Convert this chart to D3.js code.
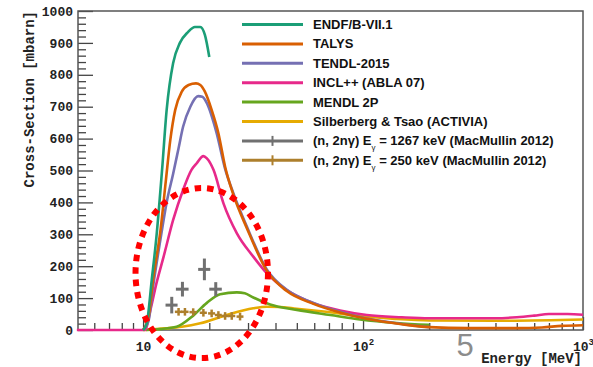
<!DOCTYPE html>
<html>
<head>
<meta charset="utf-8">
<script src="https://cdn.jsdelivr.net/npm/d3@7"></script>
<style>
	body { margin: 0; background: #fff; }
	svg { display: block; }
	.axis text { font-family: "Liberation Mono", "Courier New", monospace; font-weight: bold; font-size: 13px; fill: #222; }
	.axis line { stroke: #444; stroke-width: 1.3; }
	.legend text { font-family: "Liberation Sans", Arial, sans-serif; font-weight: bold; font-size: 13px; fill: #111; }
</style>
</head>
<body>
<svg id="chart" width="593" height="367"></svg>
<script>
// Cross-section curves, [energy MeV, mbarn]
const endf = [[10,0],[10.4,22],[10.95,157],[11.5,292],[12.2,502],[12.8,690],[13.7,837],[14.7,900],[16,934],[17.2,950],[18.2,950],[19.1,925],[20,856]];
const talys = [[10,0],[10.6,42],[11.1,157],[12,313],[12.7,470],[13.3,596],[14,690],[15,747],[16.1,768],[17.4,773],[18.2,768],[19.1,747],[20.5,690],[22,617],[23.6,512],[25.7,425],[29.6,320],[36.5,186],[45,122],[59.5,82],[78.6,55],[104,35],[150,18],[200,9],[300,6],[500,6],[650,8],[800,13],[1000,15]];
const tendl = [[10,0],[10.6,30],[11.1,135],[12,285],[12.8,400],[13.7,490],[14.5,570],[15.2,637],[16.4,700],[17.8,733],[18.6,731],[19.5,711],[21.6,617],[23.6,505],[25.7,430],[29.6,325],[36.5,190],[45,126],[59.5,85],[78.6,57],[104,36],[150,19],[200,9]];
const incl = [[5,0],[10.2,0],[10.8,63],[11.5,146],[12.4,230],[13.7,345],[15.2,439],[16.6,502],[17.5,522],[18.8,545],[19.5,538],[20.9,502],[23.2,397],[26.7,303],[31.7,230],[36.5,178],[45,125],[59.5,84],[78.6,61],[104,47],[150,40],[200,37],[400,37],[500,40],[600,45],[700,50],[850,50],[1000,48]];
const mendl = [[10.3,0],[12,3],[14.2,10],[16.9,45],[19.5,85],[22.4,112],[26.7,118],[29,115],[31.7,102],[37.8,80],[50,63],[71,47],[97,33],[142,22],[200,16]];
const activia = [[10,0],[12.7,5],[15,10],[18.2,21],[24,47],[31.7,68],[36.5,73],[42,72],[48,68],[68,57],[97,44],[140,35],[200,30],[400,29],[1000,33]];

// MacMullin 2012 points: [energy, xerr, mbarn, yerr]
const gamma1267 = [[13.5,0.85,78,26],[15.1,1.0,128,23],[19.0,1.2,190,34],[21.4,1.4,128,22]];
const gamma250 = [[14.5,0.55,57,12],[15.5,0.6,57,12],[16.9,0.65,56,12],[18.8,0.7,54,12],[20.5,0.75,52,12],[22,0.8,47,12],[23.6,0.9,44,12],[25.3,0.95,44,12],[27.6,1.0,42,12]];

const yMajor = [0,100,200,300,400,500,600,700,800,900,1000];
const xMajor = [10,100,1000];
const xMinor = [6,7,8,9,20,30,40,50,60,70,80,90,200,300,400,500,600,700,800,900];

// red dotted annotation, extent in data units
const ringE = [9.24, 36.97];
const ringV = [-88, 445];

const colors = d3.schemeDark2;
const curves = [
	{name: "ENDF/B-VII.1", data: endf, color: colors[0]},
	{name: "TALYS", data: talys, color: colors[1]},
	{name: "TENDL-2015", data: tendl, color: colors[2]},
	{name: "INCL++ (ABLA 07)", data: incl, color: colors[3]},
	{name: "MENDL 2P", data: mendl, color: colors[4]},
	{name: "Silberberg & Tsao (ACTIVIA)", data: activia, color: colors[5]}
];
const points = [
	{kev: "1267", data: gamma1267, color: "#707070", width: 3},
	{kev: "250", data: gamma250, color: "#ad7f2c", width: 2.5}
];

const svg = d3.select("#chart");
const x = d3.scaleLog().domain([5.06, 1000]).range([78, 583]);
const y = d3.scaleLinear().domain([0, 1000]).range([330, 11]);

// axes
const yAxis = svg.append("g").attr("class", "axis").attr("transform", "translate(78,0)");
yAxis.append("g").call(d3.axisLeft(y).tickValues(yMajor).tickSize(-15).tickSizeOuter(0).tickPadding(5).tickFormat(d3.format("d")));
yAxis.append("g").call(d3.axisLeft(y).tickValues(d3.range(20, 1000, 20).filter(v => v % 100)).tickSize(-8).tickFormat(""));
yAxis.selectAll(".domain").remove();

const xAxis = svg.append("g").attr("class", "axis").attr("transform", "translate(0,330)");
const xMajorG = xAxis.append("g")
		.call(d3.axisBottom(x).tickValues(xMajor).tickSize(-13).tickSizeOuter(0).tickPadding(12));
xAxis.append("g").call(d3.axisBottom(x).tickValues(xMinor).tickSize(-7).tickFormat(""));
xAxis.selectAll(".domain").remove();
xMajorG.selectAll(".tick text").each(function (d) {
	var t = d3.select(this).text("");
	t.append("tspan").text("10");
	if (d > 10) t.append("tspan").attr("dy", "-6").attr("font-size", "9px").text(Math.round(Math.log10(d)));
});

svg.append("rect")
		.attr("x", 78).attr("y", 11)
		.attr("width", 583 - 78).attr("height", 330 - 11)
		.attr("fill", "none").attr("stroke", "#555").attr("stroke-width", 1.5);

// curves
const line = d3.line()
		.x(d => x(d[0]))
		.y(d => y(d[1]))
		.curve(d3.curveMonotoneX);

svg.append("g").selectAll("path")
		.data(curves.slice().reverse())
	.enter().append("path")
		.attr("d", d => line(d.data))
		.attr("fill", "none")
		.attr("stroke", d => d.color)
		.attr("stroke-width", 2.6)
		.attr("stroke-linejoin", "round");

// error-bar crosses
points.forEach(p => {
	var g = svg.append("g").attr("stroke", p.color).attr("stroke-width", p.width);
	g.selectAll(".h").data(p.data).enter().append("line")
			.attr("x1", d => x(d[0] - d[1])).attr("x2", d => x(d[0] + d[1]))
			.attr("y1", d => y(d[2])).attr("y2", d => y(d[2]));
	g.selectAll(".v").data(p.data).enter().append("line")
			.attr("x1", d => x(d[0])).attr("x2", d => x(d[0]))
			.attr("y1", d => y(d[2] - d[3])).attr("y2", d => y(d[2] + d[3]));
});

// legend
const legend = svg.append("g").attr("class", "legend");
const rowY = i => 24.5 + 19.4 * i;
curves.forEach((c, i) => {
	legend.append("line")
			.attr("x1", 242).attr("x2", 303).attr("y1", rowY(i)).attr("y2", rowY(i))
			.attr("stroke", c.color).attr("stroke-width", 3);
	legend.append("text").attr("x", 313).attr("y", rowY(i) + 4.5).text(c.name);
});
points.forEach((p, j) => {
	var yy = rowY(curves.length + j);
	legend.append("line")
			.attr("x1", 242).attr("x2", 303).attr("y1", yy).attr("y2", yy)
			.attr("stroke", p.color).attr("stroke-width", 3);
	legend.append("line")
			.attr("x1", 272.5).attr("x2", 272.5).attr("y1", yy - 5).attr("y2", yy + 5)
			.attr("stroke", p.color).attr("stroke-width", 2);
	var t = legend.append("text").attr("x", 313).attr("y", yy + 4.5);
	t.append("tspan").text("(n, 2n\u03b3) E");
	t.append("tspan").attr("dy", 5).attr("font-size", "8px").attr("font-weight", "normal").text("\u03b3");
	t.append("tspan").attr("dy", -5).text(" = " + p.kev + " keV (MacMullin 2012)");
});

// red dotted ring
svg.append("ellipse")
		.attr("cx", (x(ringE[0]) + x(ringE[1])) / 2)
		.attr("cy", (y(ringV[0]) + y(ringV[1])) / 2)
		.attr("rx", (x(ringE[1]) - x(ringE[0])) / 2)
		.attr("ry", (y(ringV[0]) - y(ringV[1])) / 2)
		.attr("fill", "none")
		.attr("stroke", "#f00")
		.attr("stroke-width", 6)
		.attr("stroke-dasharray", "6.5 6");

// titles
svg.append("text")
		.attr("transform", "translate(34,11) rotate(-90)")
		.attr("text-anchor", "end")
		.style("font", "bold 14px 'Liberation Mono', monospace")
		.attr("fill", "#222")
		.text("Cross-Section [mbarn]");
svg.append("text")
		.attr("x", 582).attr("y", 363)
		.attr("text-anchor", "end")
		.style("font", "bold 14px 'Liberation Mono', monospace")
		.attr("fill", "#222")
		.text("Energy [MeV]");
svg.append("text")
		.attr("x", 465).attr("y", 356)
		.attr("text-anchor", "middle")
		.style("font", "31px 'Liberation Sans', Arial, sans-serif")
		.attr("fill", "#8c8c8c")
		.text("5");
</script>
</body>
</html>
